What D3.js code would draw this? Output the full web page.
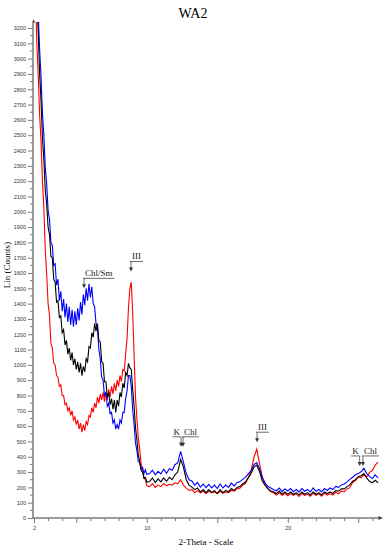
<!DOCTYPE html>
<html>
<head>
<meta charset="utf-8">
<script src="https://cdn.jsdelivr.net/npm/d3@7"></script>
<style>
  body { margin: 0; background: #fff; }
</style>
</head>
<body>
<script>
// set dimensions
var width = 388;
var height = 550;

// sampling grid (2-Theta): 0.1 step up to 10, then 0.2 step
var angles = d3.range(20, 101).map(i => i / 10)
    .concat(d3.range(51, 133).map(i => i / 5));

// counts (noise kept as seen)
var redCounts = [
  3700, 3420, 3100, 2890, 2630, 2460, 2200, 2020, 1750, 1590,
  1400, 1320, 1140, 1110, 1010, 1000, 930, 920, 860, 870,
  800, 800, 740, 750, 700, 720, 670, 700, 640, 660,
  610, 640, 580, 620, 560, 610, 570, 630, 610, 670,
  660, 720, 690, 750, 720, 790, 750, 810, 770, 820,
  760, 820, 770, 840, 790, 860, 810, 880, 830, 900,
  860, 930, 890, 970, 960, 1070, 1170, 1370, 1500, 1540,
  1340, 1060, 790, 650, 520, 450, 350, 320, 260, 250,
  210,
  205, 225, 200, 215, 205, 225, 210, 220, 215, 230,
  225, 250, 215, 195, 180, 185, 165, 180, 165, 175,
  160, 175, 165, 170, 160, 175, 162, 170, 165, 180,
  175, 190, 195, 215, 225, 265, 310, 395, 450, 355,
  265, 215, 190, 172, 165, 150, 165, 148, 160, 145,
  160, 148, 158, 140, 160, 148, 155, 142, 162, 148,
  158, 142, 162, 150, 158, 150, 168, 158, 175, 170,
  190, 198, 232, 245, 268, 262, 285, 268, 298, 310,
  345, 365
];

var blueCounts = [
  4000, 3770, 3480, 3300, 3060, 2880, 2640, 2500, 2290, 2180,
  2010, 1950, 1800, 1780, 1650, 1660, 1520, 1560, 1420, 1480,
  1350, 1430, 1310, 1400, 1280, 1380, 1260, 1360, 1250, 1350,
  1260, 1370, 1290, 1410, 1330, 1460, 1390, 1500, 1420, 1530,
  1440, 1510, 1400, 1380, 1270, 1240, 1100, 1040, 920, 900,
  800, 820, 730, 750, 680, 690, 620, 640, 580, 610,
  580, 640, 620, 690, 690, 780, 830, 930, 930, 860,
  710, 610, 490, 440, 370, 360, 320, 330, 290, 315,
  285,
  290, 312, 282, 305, 288, 318, 292, 322, 312, 348,
  362, 435, 365, 290, 250, 242, 215, 232, 202, 222,
  198, 220, 196, 215, 192, 222, 196, 215, 200, 228,
  210, 232, 236, 252, 265, 288, 310, 348, 362, 322,
  262, 228, 205, 196, 185, 178, 196, 172, 190, 176,
  192, 172, 186, 170, 192, 175, 186, 170, 196, 175,
  186, 170, 192, 180, 196, 186, 206, 200, 216, 222,
  236, 252, 266, 282, 290, 302, 325, 290, 272, 258,
  282, 262
];

var blackCounts = [
  3900, 3670, 3360, 3170, 2900, 2720, 2480, 2340, 2140, 2050,
  1900, 1850, 1710, 1700, 1560, 1540, 1410, 1420, 1310, 1320,
  1210, 1230, 1130, 1160, 1070, 1110, 1030, 1080, 1000, 1040,
  970, 1020, 950, 1010, 930, 990, 955, 1040, 1020, 1120,
  1110, 1210, 1180, 1270, 1220, 1270, 1160, 1150, 1020, 1010,
  890, 890, 790, 820, 740, 780, 710, 770, 690, 770,
  730, 820, 790, 880, 850, 950, 930, 1010, 980, 970,
  840, 730, 590, 510, 410, 370, 310, 300, 260, 265,
  235,
  238, 262, 232, 256, 236, 262, 240, 266, 250, 282,
  302, 382, 332, 250, 215, 202, 185, 196, 170, 186,
  165, 186, 166, 180, 160, 186, 165, 180, 170, 192,
  180, 200, 205, 222, 235, 262, 290, 332, 345, 302,
  240, 212, 190, 176, 170, 160, 176, 155, 170, 156,
  170, 155, 166, 150, 170, 155, 166, 150, 170, 155,
  166, 150, 170, 160, 170, 160, 180, 175, 190, 190,
  205, 216, 240, 250, 270, 276, 290, 260, 240, 230,
  246, 230
];

// tick labels
var xTickLabels = [2, 10, 20];
var yTicks = d3.range(0, 3201, 100);

// peak annotations
var annoLabels = ["Chl/Sm", "III", "K", "Chl", "III", "K", "Chl"];
var annoAngles = [5.55, 8.88, 12.43, 12.57, 17.82, 25.1, 25.33];
var annoTips = [1500, 1610, 465, 465, 495, 340, 340];
var annoSide = ["right", "right", "left", "right", "right", "left", "right"];

var serif = "'Liberation Serif', 'Times New Roman', serif";
var sans = "'Liberation Sans', Arial, sans-serif";

// create SVG
var svg = d3.select("body")
    .append("svg")
    .attr("width", width)
    .attr("height", height);

// scales
var xScale = d3.scaleLinear()
    .domain([2, 26.45])
    .range([34, 378.7]);

var yScale = d3.scaleLinear()
    .domain([0, 3200])
    .range([518, 28]);

svg.append("clipPath")
    .attr("id", "plot")
    .append("rect")
    .attr("x", 34)
    .attr("y", 22)
    .attr("width", 346)
    .attr("height", 496);

// draw traces (red under blue under black)
var line = d3.line()
    .x((d, i) => xScale(angles[i]))
    .y(d => yScale(d));

var series = [
    { values: redCounts, color: "#ff0000" },
    { values: blueCounts, color: "#0000ff" },
    { values: blackCounts, color: "#000000" }
];

svg.append("g")
    .attr("clip-path", "url(#plot)")
    .selectAll("path")
    .data(series)
    .enter()
    .append("path")
    .attr("d", d => line(d.values))
    .attr("fill", "none")
    .attr("stroke", d => d.color)
    .attr("stroke-width", 1.1)
    .attr("stroke-linejoin", "miter");

// axes
var axisColor = "#7a7a7a";

var yAxis = d3.axisLeft(yScale)
    .tickValues(yTicks)
    .tickSize(5)
    .tickPadding(2)
    .tickFormat(d3.format("d"));

var gy = svg.append("g")
    .attr("transform", "translate(33, 0)")
    .call(yAxis);

gy.select(".domain").remove();
gy.selectAll(".tick line").attr("stroke", axisColor);
gy.selectAll(".tick text")
    .attr("font-family", sans)
    .attr("font-size", "5.5px")
    .attr("fill", "#333");

// minor y ticks
svg.append("g")
    .selectAll("line")
    .data(d3.range(50, 3200, 100))
    .enter()
    .append("line")
    .attr("x1", 30)
    .attr("x2", 33)
    .attr("y1", d => yScale(d))
    .attr("y2", d => yScale(d))
    .attr("stroke", axisColor);

var xAxis = d3.axisBottom(xScale)
    .tickValues(d3.range(2, 27))
    .tickSize(3)
    .tickPadding(5)
    .tickFormat(d => xTickLabels.includes(d) ? d : "");

var gx = svg.append("g")
    .attr("transform", "translate(0, 518)")
    .call(xAxis);

gx.select(".domain").remove();
gx.selectAll(".tick line")
    .attr("stroke", axisColor)
    .attr("y2", d => d % 5 === 0 || d === 2 ? 5 : 3);
gx.selectAll(".tick text")
    .attr("font-family", sans)
    .attr("font-size", "5.5px")
    .attr("fill", "#333");

// axis lines with arrow ends
svg.append("line")
    .attr("x1", 33).attr("x2", 33)
    .attr("y1", 21).attr("y2", 518.5)
    .attr("stroke", axisColor)
    .attr("stroke-width", 1.5);

svg.append("line")
    .attr("x1", 33).attr("x2", 381)
    .attr("y1", 518).attr("y2", 518)
    .attr("stroke", axisColor)
    .attr("stroke-width", 1.5);

svg.append("path")
    .attr("d", "M33,19 L35.5,23 L33,22 Z")
    .attr("fill", "#333");

svg.append("path")
    .attr("d", "M383,518 L378,516 L379,518 L378,520 Z")
    .attr("fill", "#333");

// titles
svg.append("text")
    .attr("x", 193)
    .attr("y", 18)
    .attr("text-anchor", "middle")
    .attr("font-family", serif)
    .attr("font-size", "14px")
    .text("WA2");

svg.append("text")
    .attr("transform", "translate(10, 265) rotate(-90)")
    .attr("text-anchor", "middle")
    .attr("font-family", serif)
    .attr("font-size", "9px")
    .text("Lin (Counts)");

svg.append("text")
    .attr("x", 206)
    .attr("y", 545)
    .attr("text-anchor", "middle")
    .attr("font-family", serif)
    .attr("font-size", "9px")
    .text("2-Theta - Scale");

// annotations: label over a bracket line, arrow down to the peak
var anno = svg.append("g");

annoLabels.forEach(function(label, i) {
    var ax = xScale(annoAngles[i]);
    var tipY = yScale(annoTips[i]);
    var barY = tipY - 10;
    var left = annoSide[i] === "left";

    var t = anno.append("text")
        .attr("x", left ? ax - 1 : ax + 1)
        .attr("y", barY - 2)
        .attr("text-anchor", left ? "end" : "start")
        .attr("font-family", serif)
        .attr("font-size", "9px")
        .attr("fill", "#222")
        .text(label);

    var w = t.node().getComputedTextLength();

    anno.append("line")
        .attr("x1", left ? ax - w - 2 : ax - 1)
        .attr("x2", left ? ax : ax + w + 3)
        .attr("y1", barY).attr("y2", barY)
        .attr("stroke", "#444")
        .attr("stroke-width", 0.8);

    anno.append("line")
        .attr("x1", ax).attr("x2", ax)
        .attr("y1", barY).attr("y2", tipY - 3)
        .attr("stroke", "#444")
        .attr("stroke-width", 0.8);

    anno.append("path")
        .attr("d", `M${ax - 2},${tipY - 4} L${ax + 2},${tipY - 4} L${ax},${tipY} Z`)
        .attr("fill", "#333");
});
</script>
</body>
</html>
